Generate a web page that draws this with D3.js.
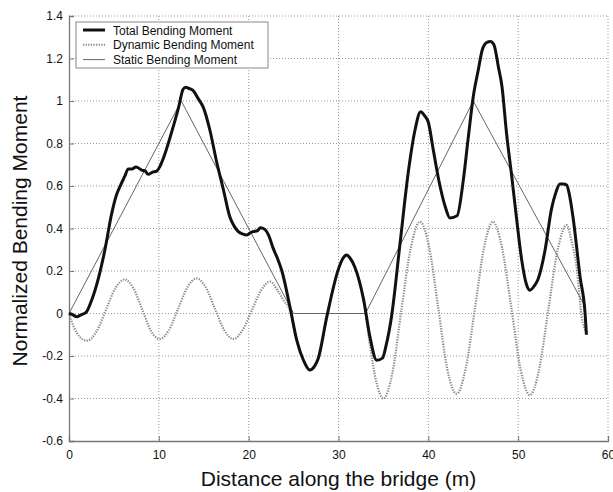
<!DOCTYPE html>
<html>
<head>
<meta charset="utf-8">
<script src="https://cdnjs.cloudflare.com/ajax/libs/d3/7.8.5/d3.min.js"></script>
<style>
body { margin: 0; background: #fff; }
text { font-family: "Liberation Sans", Arial, sans-serif; fill: #111; }
</style>
</head>
<body>
<div id="chart"></div>
<script>
// values
var totalX = [0, 0.4, 0.8, 1.4, 1.9, 2.5, 3.3, 4.0, 4.75, 5.3, 5.7, 6.2, 6.6, 7.0, 7.46, 8.1, 8.5, 8.8, 9.3, 9.76,
    10.1, 10.5, 11.4, 12.2, 12.7, 13.0, 13.3, 13.8, 14.4, 14.95, 15.7, 16.4, 17.2, 17.9, 18.4, 18.85, 19.3, 19.8, 20.2, 20.5,
    21.0, 21.3, 21.8, 22.3, 22.7, 23.2, 23.7, 24.6, 25.35, 26.1, 26.8, 27.3, 27.75, 28.7, 30.0, 30.5, 30.9, 31.3, 31.8, 32.8,
    33.5, 34.25, 34.9, 35.3, 35.9, 36.85, 37.8, 38.5, 39.15, 39.6, 40.0, 40.55, 41.3, 41.9, 42.4, 43.2, 43.9, 44.45, 45.0, 45.56,
    46.0, 46.5, 46.9, 47.3, 47.8, 48.2, 48.7, 49.3, 49.8, 50.4, 50.9, 51.3, 51.8, 52.2, 53.0, 53.7, 54.2, 54.65, 55.0, 55.4,
    55.7, 56.1, 56.9, 57.45, 57.6];
var totalY = [0, -0.005, -0.015, -0.005, 0.005, 0.06, 0.17, 0.30, 0.47, 0.56, 0.60, 0.645, 0.68, 0.68, 0.69, 0.675, 0.67, 0.655, 0.665, 0.67,
    0.69, 0.73, 0.85, 0.97, 1.055, 1.065, 1.06, 1.05, 1.01, 0.97, 0.86, 0.72, 0.58, 0.455, 0.41, 0.385, 0.375, 0.37, 0.38, 0.385,
    0.39, 0.404, 0.396, 0.36, 0.31, 0.26, 0.2, 0.03, -0.125, -0.22, -0.266, -0.25, -0.21, -0.015, 0.21, 0.26, 0.275, 0.26, 0.22, 0.064,
    -0.11, -0.22, -0.21, -0.15, -0.015, 0.33, 0.675, 0.86, 0.95, 0.93, 0.90, 0.77, 0.60, 0.50, 0.45, 0.46, 0.63, 0.83, 1.02, 1.146,
    1.24, 1.275, 1.28, 1.265, 1.16, 1.067, 0.85, 0.64, 0.455, 0.25, 0.14, 0.11, 0.13, 0.16, 0.30, 0.49, 0.57, 0.61, 0.61, 0.605,
    0.56, 0.455, 0.17, 0.0, -0.10];

var dynamicX = [0, 0.5, 1.2, 2.0, 3.05, 4.1, 5.15, 6.2, 7.15, 8.15, 9.1, 10.1, 11.1, 12.15, 13.2, 14.2, 15.2, 16.25, 17.3, 18.3,
    19.3, 20.35, 21.4, 22.4, 23.2, 23.9, 24.6, 25.35, 26.1, 26.8, 27.75, 28.7, 30.0, 30.9, 31.8, 32.8, 33.5, 34.2, 35.0, 36.0,
    37.0, 38.05, 39.07, 40.1, 41.1, 42.1, 43.15, 44.15, 45.2, 46.2, 47.2, 48.2, 49.25, 50.3, 51.3, 52.3, 53.35, 54.4, 55.4, 56.0,
    56.5, 57.07, 57.6];
var dynamicY = [0, -0.06, -0.11, -0.128, -0.086, 0.016, 0.118, 0.16, 0.12, 0.02, -0.08, -0.12, -0.08, 0.022, 0.125, 0.165, 0.125, 0.022, -0.08, -0.12,
    -0.08, 0.015, 0.11, 0.15, 0.11, 0.06, 0.015, -0.125, -0.22, -0.266, -0.22, -0.015, 0.21, 0.275, 0.22, 0.064, -0.15, -0.32, -0.40, -0.28,
    0.016, 0.31, 0.432, 0.31, 0.027, -0.26, -0.378, -0.26, 0.027, 0.31, 0.432, 0.31, 0.024, -0.27, -0.384, -0.27, 0.016, 0.30, 0.416, 0.33,
    0.22, -0.015, -0.09];

var staticX = [0, 12.5, 25, 33, 45, 57.25];
var staticY = [0, 1.0, 0, 0, 1.0, 0.048];

var xTicks = [0, 10, 20, 30, 40, 50, 60];
var yTicks = [-0.6, -0.4, -0.2, 0, 0.2, 0.4, 0.6, 0.8, 1, 1.2, 1.4];
var yTickLabels = ["-0.6", "-0.4", "-0.2", "0", "0.2", "0.4", "0.6", "0.8", "1", "1.2", "1.4"];
var legendNames = ["Total Bending Moment", "Dynamic Bending Moment", "Static Bending Moment"];

var W = 613, H = 492;
var margin = {top: 16, right: 5, bottom: 51, left: 69};
var width = W - margin.left - margin.right;
var height = H - margin.top - margin.bottom;

var svg = d3.select("#chart").append("svg")
    .attr("width", W)
    .attr("height", H);

var g = svg.append("g")
    .attr("transform", "translate(" + margin.left + "," + margin.top + ")");

var x = d3.scaleLinear().domain([0, 60]).range([0, width]);
var y = d3.scaleLinear().domain([-0.6, 1.4]).range([height, 0]);

// dotted grid
g.append("g").selectAll("line")
    .data(xTicks.slice(1))
    .enter().append("line")
    .attr("x1", d => x(d)).attr("x2", d => x(d))
    .attr("y1", 0).attr("y2", height)
    .style("stroke", "#9a9a9a").style("stroke-width", 1)
    .style("stroke-dasharray", "1,2");

g.append("g").selectAll("line")
    .data(yTicks.slice(1))
    .enter().append("line")
    .attr("x1", 0).attr("x2", width)
    .attr("y1", d => y(d)).attr("y2", d => y(d))
    .style("stroke", "#9a9a9a").style("stroke-width", 1)
    .style("stroke-dasharray", "1,2");

// axes
var xAxis = g.append("g")
    .attr("transform", "translate(0," + height + ")")
    .call(d3.axisBottom(x).tickValues(xTicks).tickSize(-5).tickPadding(9).tickFormat(d3.format("d")));
var yAxis = g.append("g")
    .call(d3.axisLeft(y).tickValues(yTicks).tickSize(-5).tickPadding(6)
        .tickFormat((d, i) => yTickLabels[i]));

[xAxis, yAxis].forEach(function(a) {
    a.select(".domain").style("stroke", "#777").style("stroke-width", 1.3);
    a.selectAll(".tick line").style("stroke", "#777");
    a.selectAll(".tick text").style("font-size", "12px").style("fill", "#111")
        .style("font-family", "'Liberation Sans', Arial, sans-serif");
});

// lines
var line = d3.line()
    .x(d => x(d[0]))
    .y(d => y(d[1]))
    .curve(d3.curveMonotoneX);

var dynamicData = dynamicX.map((d, i) => [d, dynamicY[i]]);
var staticData = staticX.map((d, i) => [d, staticY[i]]);
var totalData = totalX.map((d, i) => [d, totalY[i]]);

g.append("path")
    .datum(dynamicData)
    .attr("d", line)
    .style("fill", "none")
    .style("stroke", "#8a8a8a")
    .style("stroke-width", 2.2)
    .style("stroke-dasharray", "1.3,1.3");

g.append("path")
    .datum(staticData)
    .attr("d", d3.line().x(d => x(d[0])).y(d => y(d[1])))
    .style("fill", "none")
    .style("stroke", "#666")
    .style("stroke-width", 1);

g.append("path")
    .datum(totalData)
    .attr("d", line)
    .style("fill", "none")
    .style("stroke", "#111")
    .style("stroke-width", 3)
    .style("stroke-linejoin", "round");

// legend
var legend = g.append("g").attr("transform", "translate(7,6)");
legend.append("rect")
    .attr("width", 192).attr("height", 46)
    .style("fill", "#fff").style("stroke", "#888").style("stroke-width", 1);

var item = legend.selectAll(".item")
    .data(legendNames)
    .enter().append("g")
    .attr("transform", (d, i) => "translate(0," + (8 + i * 14.8) + ")");

item.append("line")
    .attr("x1", 7).attr("x2", 29)
    .attr("y1", 0).attr("y2", 0)
    .style("stroke", (d, i) => ["#111", "#8a8a8a", "#666"][i])
    .style("stroke-width", (d, i) => [3, 2, 1][i])
    .style("stroke-dasharray", (d, i) => i == 1 ? "1.3,1.3" : null);

item.append("text")
    .attr("x", 37).attr("y", 4.5)
    .style("font-size", "12px")
    .text(d => d);

// axis titles
svg.append("text")
    .attr("x", margin.left + width / 2)
    .attr("y", 486)
    .attr("text-anchor", "middle")
    .style("font-size", "21px")
    .text("Distance along the bridge (m)");

svg.append("text")
    .attr("transform", "translate(27,231) rotate(-90)")
    .attr("text-anchor", "middle")
    .style("font-size", "21px")
    .text("Normalized Bending Moment");
</script>
</body>
</html>
